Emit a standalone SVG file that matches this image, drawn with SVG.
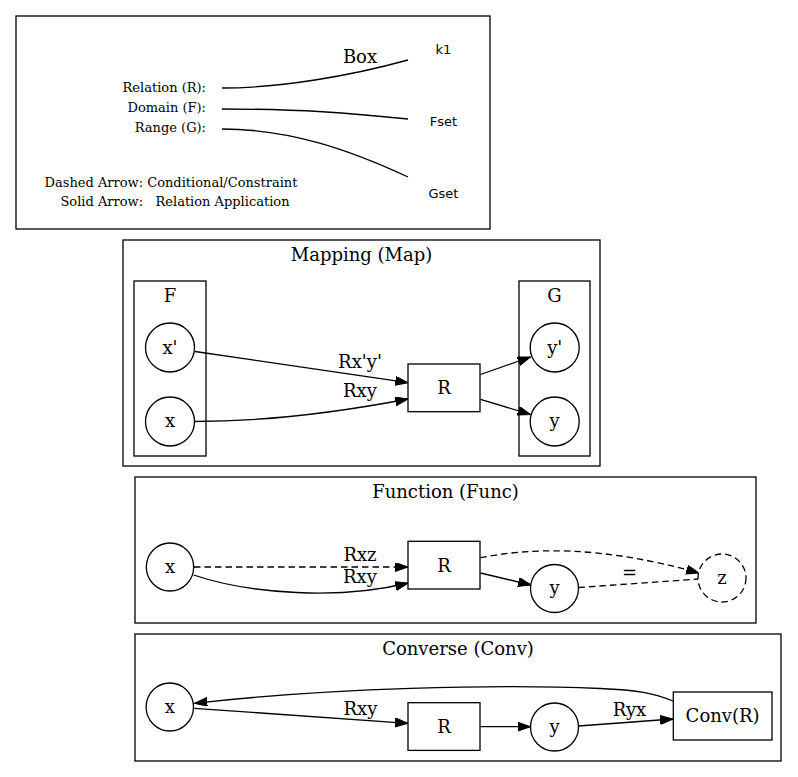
<svg xmlns="http://www.w3.org/2000/svg" width="798" height="777" viewBox="0 0 798 777">
<style>
.b{fill:none;stroke:#000;stroke-width:1.3}
.nd{fill:#fff;stroke:#000;stroke-width:1.3}
.e{fill:none;stroke:#000;stroke-width:1.3}
.d{stroke-dasharray:6.5,4}
.t{font-family:"DejaVu Serif",serif;font-size:18px;text-anchor:middle;fill:#000}
.s{font-family:"DejaVu Serif",serif;font-size:13px;fill:#000}
.ss{font-family:"DejaVu Sans",sans-serif;font-size:13px;text-anchor:middle;fill:#000}
</style>
<defs>
<marker id="ah" markerUnits="userSpaceOnUse" markerWidth="14" markerHeight="10" refX="12.8" refY="4.5" orient="auto">
<path d="M0,0 L12.8,4.5 L0,9 z" fill="#000" stroke="#000" stroke-width="1"/>
</marker>
</defs>
<rect width="798" height="777" fill="#fff"/>

<g id="legend">
<rect class="b" x="16" y="16" width="474" height="213"/>
<text class="s" x="206" y="92" text-anchor="end">Relation (R):</text>
<text class="s" x="206" y="112" text-anchor="end">Domain (F):</text>
<text class="s" x="206" y="132" text-anchor="end">Range (G):</text>
<text class="s" x="171" y="187" text-anchor="middle">Dashed Arrow: Conditional/Constraint</text>
<text class="s" x="175" y="206" text-anchor="middle" xml:space="preserve">Solid Arrow:   Relation Application</text>
<text class="ss" x="443.5" y="54">k1</text>
<text class="ss" x="443.5" y="126">Fset</text>
<text class="ss" x="443.5" y="198">Gset</text>
<path class="e" d="M222,88 C280,88 350,76 408,60"/>
<path class="e" d="M222,109 C300,109 350,113 408,119"/>
<path class="e" d="M222,129 C290,129 350,150 408,177"/>
<text class="t" x="360" y="63">Box</text>
</g>

<g id="cluster_map">
<rect class="b" x="123" y="240" width="477" height="226"/>
<text class="t" x="361.5" y="261">Mapping (Map)</text>
</g>
<g id="cluster_F">
<rect class="b" x="134" y="281" width="72" height="175"/>
<text class="t" x="170" y="302">F</text>
</g>
<g id="cluster_G">
<rect class="b" x="519" y="281" width="71" height="175"/>
<text class="t" x="554.5" y="302">G</text>
</g>
<g id="cluster_func">
<rect class="b" x="135" y="477" width="621" height="146"/>
<text class="t" x="445.5" y="498">Function (Func)</text>
</g>
<g id="cluster_conv">
<rect class="b" x="135" y="634" width="646" height="127"/>
<text class="t" x="458" y="655">Converse (Conv)</text>
</g>

<g id="connectors">
<path class="e" d="M195,351.5 L408,382.7" marker-end="url(#ah)"/>
<text class="t" x="360" y="368">Rx'y'</text>
<path class="e" d="M194.5,421.5 C270,421.5 340,412 408,399" marker-end="url(#ah)"/>
<text class="t" x="360" y="397">Rxy</text>
<path class="e" d="M480.5,374.5 L530.5,357" marker-end="url(#ah)"/>
<path class="e" d="M480.5,399.3 L530.5,414.5" marker-end="url(#ah)"/>

<path class="e d" d="M194,567 L408,567" marker-end="url(#ah)"/>
<text class="t" x="360" y="561">Rxz</text>
<path class="e" d="M193.6,575 C250,594 340,600 408,583" marker-end="url(#ah)"/>
<text class="t" x="360" y="583">Rxy</text>
<path class="e" d="M480.5,573 L531,585" marker-end="url(#ah)"/>
<path class="e d" d="M480.5,557.7 C530,548 600,545 699,573" marker-end="url(#ah)"/>
<path class="e d" d="M578.5,587.5 L698,579"/>
<text class="t" x="629.5" y="579">=</text>

<path class="e" d="M194.3,708.3 L408,723.3" marker-end="url(#ah)"/>
<text class="t" x="360.5" y="715">Rxy</text>
<path class="e" d="M480.5,726.7 L530.5,726.7" marker-end="url(#ah)"/>
<path class="e" d="M578.5,726 L673,719" marker-end="url(#ah)"/>
<text class="t" x="629.5" y="716">Ryx</text>
<path class="e" d="M673,701 C655,694 640,690 600,688.5 C500,684 330,688 194.5,703.3" marker-end="url(#ah)"/>
</g>

<g id="map_xp"><circle class="nd" cx="170" cy="347.5" r="24.5"/><text class="t" x="170" y="353.5">x'</text></g>
<g id="map_x"><circle class="nd" cx="170" cy="421.5" r="24.5"/><text class="t" x="170" y="427">x</text></g>
<g id="map_R"><rect class="nd" x="408" y="364" width="72" height="47.7"/><text class="t" x="444" y="394">R</text></g>
<g id="map_yp"><circle class="nd" cx="554.7" cy="347.5" r="24.5"/><text class="t" x="554.7" y="353.5">y'</text></g>
<g id="map_y"><circle class="nd" cx="554.7" cy="421.5" r="24.5"/><text class="t" x="554.7" y="427">y</text></g>

<g id="func_x"><ellipse class="nd" cx="170" cy="567" rx="23.7" ry="24"/><text class="t" x="170" y="573">x</text></g>
<g id="func_R"><rect class="nd" x="408" y="541.3" width="72" height="47.7"/><text class="t" x="444" y="571.5">R</text></g>
<g id="func_y"><circle class="nd" cx="554.5" cy="588.5" r="24"/><text class="t" x="554.5" y="594">y</text></g>
<g id="func_z"><circle class="nd d" cx="722" cy="578" r="24"/><text class="t" x="722" y="584">z</text></g>

<g id="conv_x"><ellipse class="nd" cx="169.8" cy="707" rx="23.7" ry="24"/><text class="t" x="169.8" y="713">x</text></g>
<g id="conv_R"><rect class="nd" x="408" y="702.7" width="72" height="47.7"/><text class="t" x="444" y="732.5">R</text></g>
<g id="conv_y"><circle class="nd" cx="554.5" cy="727" r="24"/><text class="t" x="554.5" y="732.5">y</text></g>
<g id="conv_C"><rect class="nd" x="673.3" y="692" width="98.7" height="48"/><text class="t" x="722.6" y="722">Conv(R)</text></g>
</svg>
